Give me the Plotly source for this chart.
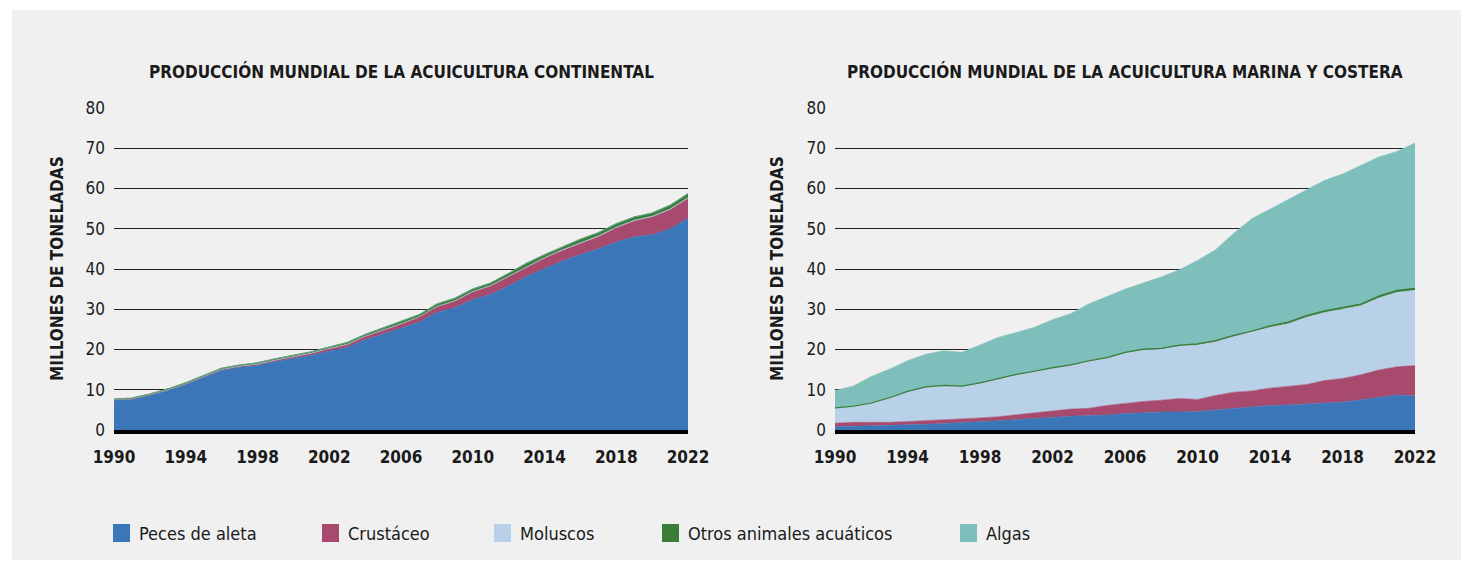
import plotly.graph_objects as go

# --- datos ---
years = list(range(1990, 2023))

categorias = ["Peces de aleta", "Crustáceo", "Moluscos", "Otros animales acuáticos", "Algas"]
colores = ["#3a76b8", "#a8496e", "#b8d0e8", "#3a7d3a", "#7fbfbb"]

# Acuicultura continental (millones de toneladas)
cont_peces = [7.4, 7.6, 8.6, 9.8, 11.3, 13.0, 14.8, 15.6, 16.0, 17.0, 17.7, 18.5, 19.6, 20.5, 22.4, 23.8, 25.3,
              26.8, 29.2, 30.4, 32.4, 33.7, 35.8, 38.2, 40.2, 42.0, 43.6, 45.0, 46.7, 48.0, 48.5, 50.0, 52.6]
cont_crust = [0.1, 0.1, 0.1, 0.1, 0.1, 0.2, 0.2, 0.2, 0.3, 0.3, 0.4, 0.5, 0.6, 0.7, 0.8, 0.9, 1.0,
              1.2, 1.4, 1.6, 1.9, 2.1, 2.3, 2.4, 2.5, 2.6, 2.8, 3.0, 3.5, 3.9, 4.4, 4.7, 4.9]
cont_molus = [0.1, 0.1, 0.1, 0.1, 0.1, 0.1, 0.1, 0.1, 0.1, 0.1, 0.1, 0.1, 0.1, 0.1, 0.1, 0.1, 0.1,
              0.1, 0.1, 0.1, 0.1, 0.1, 0.1, 0.1, 0.1, 0.2, 0.2, 0.2, 0.2, 0.2, 0.2, 0.2, 0.2]
cont_otros = [0.1, 0.1, 0.1, 0.2, 0.2, 0.2, 0.2, 0.2, 0.3, 0.3, 0.3, 0.3, 0.3, 0.4, 0.4, 0.5, 0.5,
              0.5, 0.6, 0.6, 0.6, 0.6, 0.7, 0.7, 0.7, 0.7, 0.8, 0.8, 0.8, 0.8, 0.8, 0.9, 1.0]
cont_algas = [0.0] * 33

# Acuicultura marina y costera (millones de toneladas)
mar_peces = [0.8, 0.9, 1.0, 1.1, 1.3, 1.4, 1.6, 1.8, 2.0, 2.3, 2.6, 2.9, 3.1, 3.4, 3.6, 3.7, 4.1,
             4.3, 4.5, 4.5, 4.6, 5.0, 5.4, 5.7, 6.1, 6.2, 6.5, 6.7, 6.9, 7.5, 8.2, 8.7, 8.5]
mar_crust = [0.9, 1.0, 0.9, 0.8, 0.8, 0.9, 0.9, 0.9, 1.0, 1.0, 1.2, 1.4, 1.7, 1.8, 1.8, 2.4, 2.5,
             2.8, 2.9, 3.3, 3.0, 3.6, 4.0, 4.0, 4.3, 4.7, 4.8, 5.6, 5.9, 6.2, 6.7, 7.0, 7.5]
mar_molus = [3.7, 3.9, 4.7, 6.0, 7.4, 8.3, 8.5, 8.1, 8.6, 9.3, 9.9, 10.2, 10.5, 10.8, 11.6, 11.7, 12.5,
             12.8, 12.7, 13.1, 13.5, 13.3, 13.8, 14.6, 15.1, 15.5, 16.7, 16.9, 17.2, 17.2, 17.9, 18.5, 18.7]
mar_otros = [0.1, 0.1, 0.1, 0.1, 0.1, 0.1, 0.1, 0.1, 0.1, 0.1, 0.1, 0.1, 0.2, 0.2, 0.2, 0.2, 0.2,
             0.2, 0.2, 0.2, 0.3, 0.3, 0.3, 0.3, 0.4, 0.4, 0.4, 0.4, 0.4, 0.4, 0.5, 0.5, 0.5]
mar_algas = [4.3, 5.0, 6.6, 7.1, 7.6, 8.1, 8.6, 8.4, 9.4, 10.3, 10.4, 10.9, 11.9, 12.7, 14.1, 15.2, 15.7,
             16.4, 17.7, 18.7, 20.7, 22.6, 25.4, 27.9, 29.0, 30.4, 31.1, 32.4, 33.2, 34.4, 34.5, 34.5, 36.1]

titulos = ["PRODUCCIÓN MUNDIAL DE LA ACUICULTURA CONTINENTAL",
           "PRODUCCIÓN MUNDIAL DE LA ACUICULTURA MARINA Y COSTERA"]
titulo_y = "MILLONES DE TONELADAS"
x_ticks = [1990, 1994, 1998, 2002, 2006, 2010, 2014, 2018, 2022]
y_ticks = [0, 10, 20, 30, 40, 50, 60, 70, 80]

W, H = 1469, 563
OFF = 8  # margen del body de la página
FONT = "DejaVu Sans Condensed, Roboto Condensed, Liberation Sans Narrow, Roboto, sans-serif"
INK = "#1a1a1a"

fig = go.Figure()

series = [
    ("x", "y", [cont_peces, cont_crust, cont_molus, cont_otros, cont_algas]),
    ("x2", "y2", [mar_peces, mar_crust, mar_molus, mar_otros, mar_algas]),
]
for xa, ya, capas in series:
    for nombre, color, vals in zip(categorias, colores, capas):
        fig.add_trace(go.Scatter(
            x=years, y=vals, name=nombre, xaxis=xa, yaxis=ya,
            stackgroup=xa, mode="lines",
            line=dict(color=color, width=0.6 if nombre != "Otros animales acuáticos" else 1.2),
            fillcolor=color, showlegend=False, hoverinfo="x+y+name"
        ))

px = lambda v: (v - OFF) / W
py = lambda v: 1 - (v - OFF) / H

ydom = [py(430), py(108)]
dom_left = [px(114), px(688)]
dom_right = [px(835), px(1415)]

xax = dict(range=[1990, 2022], tickvals=x_ticks, showgrid=False, zeroline=False,
           showline=True, linecolor="black", linewidth=4, ticks="", automargin=False,
           ticklabelstandoff=9,
           tickfont=dict(family=FONT, size=17, color=INK, weight="bold"), fixedrange=True)
yax = dict(range=[0, 80], tickvals=y_ticks, showgrid=True, gridcolor="#222222", gridwidth=1,
           zeroline=False, showline=False, ticks="", ticklabelstandoff=8, automargin=False,
           tickfont=dict(family=FONT, size=17, color=INK), fixedrange=True)

fig.update_layout(
    width=W, height=H,
    margin=dict(l=0, r=0, t=0, b=0, autoexpand=False),
    paper_bgcolor="white", plot_bgcolor="rgba(0,0,0,0)",
    showlegend=False,
    xaxis=dict(xax, domain=dom_left, anchor="y"),
    yaxis=dict(yax, domain=ydom, anchor="x"),
    xaxis2=dict(xax, domain=dom_right, anchor="y2"),
    yaxis2=dict(yax, domain=ydom, anchor="x2"),
)

# fondo gris del panel
fig.add_shape(type="rect", xref="paper", yref="paper", x0=px(12), x1=px(1462), y0=py(560), y1=py(10),
              fillcolor="#f0f0f0", line_width=0, layer="below")

# títulos de los paneles
for cx, t in zip([401, 1125], titulos):
    fig.add_annotation(x=px(cx), y=py(72), xref="paper", yref="paper", text=f"<b>{t}</b>",
                       xanchor="center", yanchor="middle",
                       showarrow=False, font=dict(family=FONT, size=17, color=INK))
# títulos del eje y
for cx in [57, 777]:
    fig.add_annotation(x=px(cx), y=py(269), xref="paper", yref="paper", text=f"<b>{titulo_y}</b>",
                       xanchor="center", yanchor="middle",
                       textangle=-90, showarrow=False, font=dict(family=FONT, size=17, color=INK))

# leyenda
leg_x = [113, 322, 494, 662, 960]
for lx, nombre, color in zip(leg_x, categorias, colores):
    fig.add_shape(type="rect", xref="paper", yref="paper", x0=px(lx), x1=px(lx + 17),
                  y0=py(542), y1=py(524), fillcolor=color, line_width=0)
    fig.add_annotation(x=px(lx + 24), y=py(533), xref="paper", yref="paper", text=nombre,
                       xanchor="left", yanchor="middle",
                       showarrow=False, font=dict(family=FONT, size=18, color=INK))

fig.write_html("out.html")
